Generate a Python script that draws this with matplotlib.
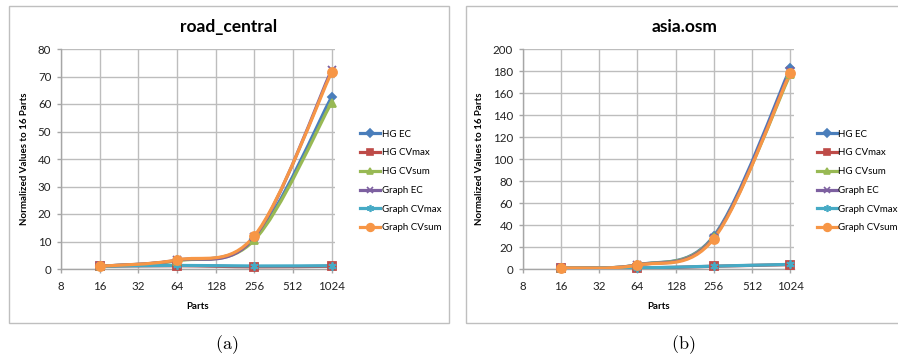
import numpy as np
import matplotlib
matplotlib.use('Agg')
import matplotlib.pyplot as plt
from matplotlib.path import Path
from matplotlib.patches import PathPatch, Rectangle
from matplotlib.lines import Line2D

plt.rcParams['font.family'] = ['Lato', 'DejaVu Sans']
plt.rcParams['mathtext.fontset'] = 'cm'

parts = [16, 64, 256, 1024]
x_ticks = [8, 16, 32, 64, 128, 256, 512, 1024]
series_names = ['HG EC', 'HG CVmax', 'HG CVsum', 'Graph EC', 'Graph CVmax', 'Graph CVsum']

# road_central
road_hg_ec = [1.0, 3.1, 11.0, 62.5]
road_hg_cvmax = [1.0, 1.2, 0.8, 1.0]
road_hg_cvsum = [1.0, 3.0, 10.5, 60.5]
road_graph_ec = [1.0, 3.2, 11.5, 72.3]
road_graph_cvmax = [1.0, 1.3, 1.1, 1.2]
road_graph_cvsum = [1.0, 3.3, 12.0, 71.5]

# asia.osm
asia_hg_ec = [1.0, 3.8, 30.0, 182.5]
asia_hg_cvmax = [1.0, 0.8, 2.5, 4.0]
asia_hg_cvsum = [1.0, 3.7, 29.0, 177.0]
asia_graph_ec = [1.0, 3.6, 28.5, 180.0]
asia_graph_cvmax = [1.0, 1.0, 2.6, 4.2]
asia_graph_cvsum = [1.0, 3.5, 27.5, 178.5]

colors = ['#4A7EBB', '#BE4B48', '#98B954', '#7D60A0', '#46AAC5', '#F79646']
markers = ['D', 's', '^', 'x', (6, 2, 0), 'o']
msizes = [4.5, 5.5, 5.5, 5.5, 6, 6.5]


def smooth_path(xs, ys):
    # Excel-style smoothed line: Catmull-Rom segments as cubic Bezier in log2 space
    pts = np.column_stack([np.log2(xs), ys]).astype(float)
    verts = [pts[0]]
    codes = [Path.MOVETO]
    n = len(pts)
    for i in range(n - 1):
        p0 = pts[i - 1] if i > 0 else pts[i]
        p1 = pts[i]
        p2 = pts[i + 1]
        p3 = pts[i + 2] if i + 2 < n else pts[i + 1]
        verts += [p1 + (p2 - p0) / 6, p2 - (p3 - p1) / 6, p2]
        codes += [Path.CURVE4] * 3
    verts = np.array(verts)
    verts[:, 0] = 2 ** verts[:, 0]
    return Path(verts, codes)


def draw_panel(fig, rect, title, series, ymax, ystep, title_x, leg_x):
    ax = fig.add_axes(rect)
    ax.set_xscale('log', base=2)
    ax.set_xlim(8, 1024 * 2 ** 0.09)
    ax.set_ylim(0, ymax)
    ax.set_xticks(x_ticks)
    ax.set_xticklabels([str(t) for t in x_ticks])
    ax.xaxis.set_minor_locator(matplotlib.ticker.NullLocator())
    ax.set_yticks(np.arange(0, ymax + 1, ystep))
    ax.grid(True, color='#BDBDBD', lw=1.0)
    ax.set_axisbelow(True)
    for s in ['top', 'right']:
        ax.spines[s].set_visible(False)
    for s in ['left', 'bottom']:
        ax.spines[s].set_color('#A6A6A6')
        ax.spines[s].set_linewidth(1.0)
    ax.tick_params(axis='both', length=3, width=1, color='#A6A6A6',
                   labelsize=8.3, labelcolor='#222222')
    ax.tick_params(axis='x', pad=6)
    ax.tick_params(axis='y', pad=4)
    ax.set_xlabel('Parts', fontsize=7, fontweight='bold', labelpad=7)
    ax.set_ylabel('Normalized Values to 16 Parts', fontsize=7, fontweight='bold', labelpad=6)

    order = [1, 4, 0, 2, 3, 5]
    for i in order:
        ys = series[i]
        ax.add_patch(PathPatch(smooth_path(parts, ys), fill=False,
                               edgecolor=colors[i], lw=2.3, zorder=3 + i * 0.1,
                               capstyle='round', joinstyle='round'))
        ax.plot(parts, ys, ls='none', marker=markers[i], ms=msizes[i],
                color=colors[i], mec=colors[i], mew=1.3, zorder=4 + i * 0.1,
                clip_on=False)

    handles = [Line2D([], [], color=colors[i], lw=2.3, marker=markers[i],
                      ms=msizes[i] * 0.85, mec=colors[i], mew=1.2)
               for i in range(6)]
    fig.legend(handles, series_names, loc='center left',
               bbox_to_anchor=(leg_x, 0.497), frameon=False, fontsize=7,
               handlelength=2.1, handletextpad=0.15, labelspacing=1.0,
               borderpad=0, borderaxespad=0)
    fig.text(title_x, 0.925, title, ha='center', va='center',
             fontsize=12.5, fontweight='bold')
    return ax


fig = plt.figure(figsize=(8.98, 3.6), dpi=100)

fig.patches.append(Rectangle((9 / 898, 1 - 323 / 360), 440 / 898, 317 / 360,
                             transform=fig.transFigure, fill=False,
                             edgecolor='#BFBFBF', lw=1.0))
fig.patches.append(Rectangle((466 / 898, 1 - 323 / 360), 440 / 898, 317 / 360,
                             transform=fig.transFigure, fill=False,
                             edgecolor='#BFBFBF', lw=1.0))

road = [road_hg_ec, road_hg_cvmax, road_hg_cvsum,
        road_graph_ec, road_graph_cvmax, road_graph_cvsum]
asia = [asia_hg_ec, asia_hg_cvmax, asia_hg_cvsum,
        asia_graph_ec, asia_graph_cvmax, asia_graph_cvsum]

draw_panel(fig, [61 / 898, 1 - 269 / 360, 274 / 898, 220 / 360],
           'road_central', road, 80, 10, 229 / 898, 360 / 898)
draw_panel(fig, [522.7 / 898, 1 - 269 / 360, 271 / 898, 220 / 360],
           'asia.osm', asia, 200, 20, 685 / 898, 816.5 / 898)

fig.text(227 / 898, 1 - 345 / 360, r'$(\mathrm{a})$', ha='center', va='center', fontsize=13)
fig.text(683 / 898, 1 - 345 / 360, r'$(\mathrm{b})$', ha='center', va='center', fontsize=13)

fig.savefig('out.png', dpi=100)
